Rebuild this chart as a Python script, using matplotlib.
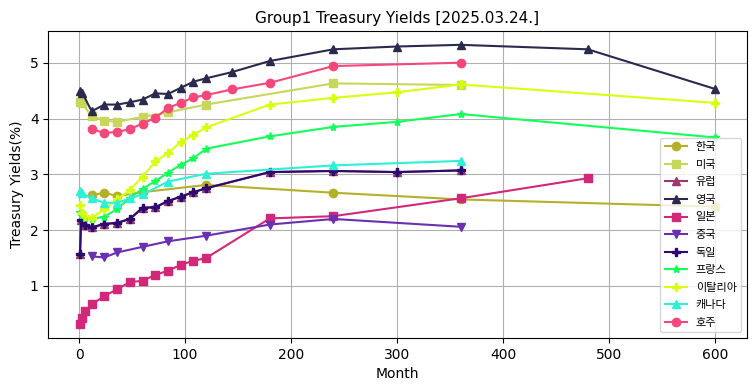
import matplotlib
matplotlib.use('Agg')
import matplotlib.pyplot as plt

plt.rcParams['font.family'] = ['DejaVu Sans', 'Noto Sans CJK KR']

# months to maturity and yields (%) per country
kr_month = [12, 24, 36, 60, 120, 240, 360, 600]
kr_yield = [2.63, 2.67, 2.61, 2.68, 2.81, 2.67, 2.55, 2.42]

us_month = [1, 3, 12, 24, 36, 60, 84, 120, 240, 360]
us_yield = [4.30, 4.27, 4.04, 3.96, 3.94, 4.03, 4.11, 4.25, 4.63, 4.60]

de_month = [1, 2, 6, 12, 24, 36, 48, 60, 72, 84, 96, 108, 120, 180, 240, 300, 360]
de_yield = [1.58, 2.19, 2.10, 2.05, 2.11, 2.13, 2.20, 2.40, 2.41, 2.52, 2.60, 2.68, 2.75, 3.04, 3.06, 3.04, 3.07]

# euro area curve sits under the German one
eu_month = de_month
eu_yield = de_yield

uk_month = [1, 3, 12, 24, 36, 48, 60, 72, 84, 96, 108, 120, 144, 180, 240, 300, 360, 480, 600]
uk_yield = [4.50, 4.46, 4.13, 4.25, 4.25, 4.29, 4.34, 4.45, 4.44, 4.55, 4.66, 4.72, 4.83, 5.03, 5.24, 5.29, 5.32, 5.24, 4.53]

jp_month = [1, 3, 6, 12, 24, 36, 48, 60, 72, 84, 96, 108, 120, 180, 240, 360, 480]
jp_yield = [0.32, 0.42, 0.55, 0.67, 0.82, 0.94, 1.07, 1.09, 1.20, 1.27, 1.38, 1.45, 1.50, 2.21, 2.25, 2.57, 2.93]

cn_month = [12, 24, 36, 60, 84, 120, 180, 240, 360]
cn_yield = [1.53, 1.51, 1.60, 1.70, 1.80, 1.90, 2.10, 2.20, 2.06]

fr_month = [1, 3, 6, 12, 24, 36, 48, 60, 72, 84, 96, 108, 120, 180, 240, 300, 360, 600]
fr_yield = [2.33, 2.27, 2.22, 2.20, 2.24, 2.38, 2.58, 2.74, 2.88, 3.03, 3.17, 3.29, 3.46, 3.68, 3.85, 3.94, 4.08, 3.66]

it_month = [1, 3, 6, 12, 24, 36, 48, 60, 72, 84, 96, 108, 120, 180, 240, 300, 360, 600]
it_yield = [2.45, 2.30, 2.25, 2.22, 2.37, 2.55, 2.72, 2.96, 3.23, 3.38, 3.58, 3.71, 3.84, 4.25, 4.37, 4.47, 4.61, 4.28]

ca_month = [1, 3, 12, 24, 36, 48, 60, 84, 120, 240, 360]
ca_yield = [2.70, 2.66, 2.57, 2.49, 2.49, 2.57, 2.64, 2.87, 3.01, 3.16, 3.24]

au_month = [12, 24, 36, 48, 60, 72, 84, 96, 108, 120, 144, 180, 240, 360]
au_yield = [3.81, 3.74, 3.76, 3.81, 3.91, 4.01, 4.19, 4.28, 4.38, 4.42, 4.52, 4.64, 4.94, 5.00]

series = [
    ('한국', kr_month, kr_yield, 'o', '#b5b02a'),
    ('미국', us_month, us_yield, 's', '#c8d65a'),
    ('유럽', eu_month, eu_yield, '^', '#9c386e'),
    ('영국', uk_month, uk_yield, '^', '#2a2a4e'),
    ('일본', jp_month, jp_yield, 's', '#d2287a'),
    ('중국', cn_month, cn_yield, 'v', '#6a30b2'),
    ('독일', de_month, de_yield, 'P', '#2c0a6e'),
    ('프랑스', fr_month, fr_yield, '*', '#14ff5a'),
    ('이탈리아', it_month, it_yield, 'P', '#d8ff10'),
    ('캐나다', ca_month, ca_yield, '^', '#2ef0d4'),
    ('호주', au_month, au_yield, 'o', '#f5487a'),
]

fig, ax = plt.subplots(figsize=(7.55, 3.91), dpi=100)
fig.subplots_adjust(left=0.064, right=0.989, top=0.921, bottom=0.136)

for name, m, y, mk, c in series:
    ax.plot(m, y, marker=mk, color=c, label=name)

ax.set_title('Group1 Treasury Yields [2025.03.24.]', fontsize=11)
ax.set_xlabel('Month')
ax.set_ylabel('Treasury Yields(%)')
ax.grid(True)
ax.legend(loc='lower right', prop={'family': ['Noto Sans CJK KR'], 'size': 8},
          labelspacing=0.68)

plt.savefig('out.png')
